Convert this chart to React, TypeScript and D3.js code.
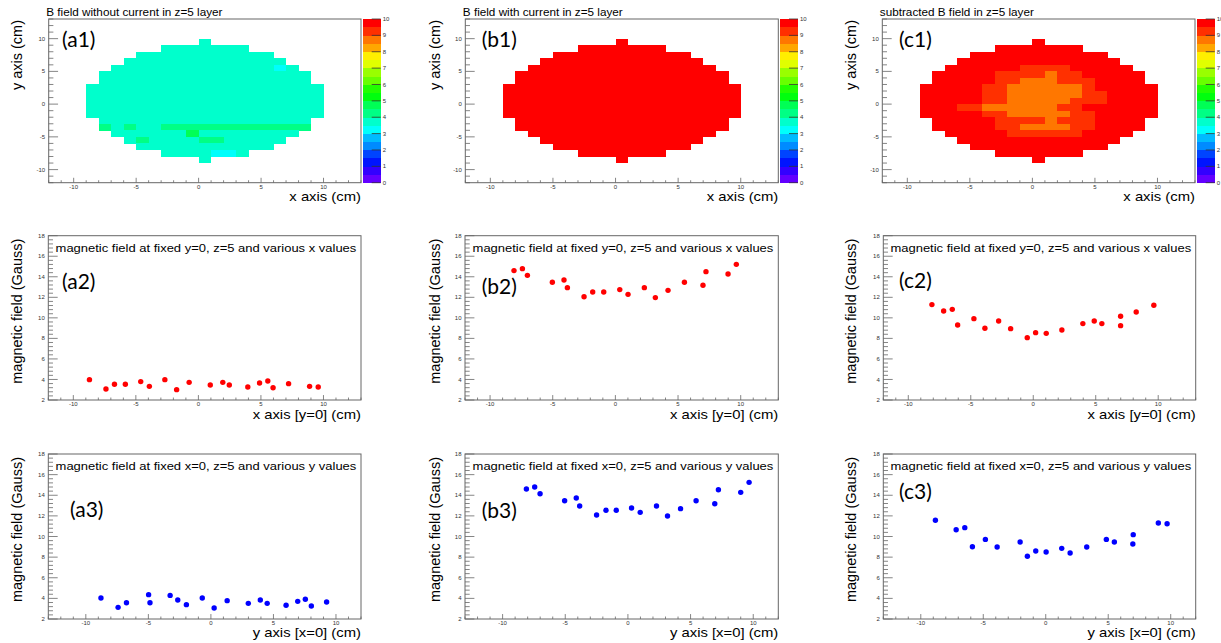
import React from 'react';
import * as d3 from 'd3';

// 1 cm bins of the z=5 maps (lower edges)
const binX = [-9, -8, -7, -6, -5, -4, -3, -2, -1, 0, 1, 2, 3, 4, 5, 6, 7, 8, 9];
const binY = [9, 8, 7, 6, 5, 4, 3, 2, 1, 0, -1, -2, -3, -4, -5, -6, -7, -8, -9];

// cell code -> B value (Gauss)
const codeValue: Record<string, number> = { C: 3.2, A: 3.8, G: 4.2, H: 4.7, o: 8.7, r: 9.3, R: 10.2 };

const mapNoCurrent = [
  '         A         ',
  '      AAAAAAA      ',
  '    AAAAAAAAAAA    ',
  '   AAAAAAAAAAAAA   ',
  '  AAAAAAAAAAAAACA  ',
  ' AAAAAAAAAAAAAAAAA ',
  ' AAAAAAAAAAAAAAAAA ',
  'AAAAAAAAAAAAAAAAAAA',
  'AAAAAAAAAAAAAAAAAAA',
  'AAAAAAAAAAAAAAAAAAA',
  'AAAAAAAAAAAAAAAAAAA',
  'AAAAAAAAAAAAAAAAAAA',
  ' AAAAAAAAAAAAAAAAA ',
  ' GAGAAGGGGGGGGGGGG ',
  '  AAAAAAHAAAAAAAA  ',
  '   AGAAAAGGAAAAA   ',
  '    AAAAAAAAAAA    ',
  '      AAAACCA      ',
  '         A         ',
];

const mapWithCurrent = [
  '         R         ',
  '      RRRRRRR      ',
  '    RRRRRRRRRRR    ',
  '   RRRRRRRRRRRRR   ',
  '  RRRRRRRRRRRRRRR  ',
  ' RRRRRRRRRRRRRRRRR ',
  ' RRRRRRRRRRRRRRRRR ',
  'RRRRRRRRRRRRRRRRRRR',
  'RRRRRRRRRRRRRRRRRRR',
  'RRRRRRRRRRRRRRRRRRR',
  'RRRRRRRRRRRRRRRRRRR',
  'RRRRRRRRRRRRRRRRRRR',
  ' RRRRRRRRRRRRRRRRR ',
  ' RRRRRRRRRRRRRRRRR ',
  '  RRRRRRRRRRRRRRR  ',
  '   RRRRRRRRRRRRR   ',
  '    RRRRRRRRRRR    ',
  '      RRRRRRR      ',
  '         R         ',
];

const mapSubtracted = [
  '         R         ',
  '      RRRRRRR      ',
  '    RRRRRRRRRRR    ',
  '   RRRRRRRRRRRRR   ',
  '  RRRRRRrrrrRRRRR  ',
  ' RRRRRrrrrorrRRRRR ',
  ' RRRRRrrooorrrRRRR ',
  'RRRRRrroooooorRRRRR',
  'RRRRRrroooooorrRRRR',
  'RRRRRrrooooorrrRRRR',
  'RRRrroooooorrRRRRRR',
  'RRRRRrrooooorrRRRRR',
  ' RRRRRrrrrorrrRRRR ',
  ' RRRRRrroooorrRRRR ',
  '  RRRRRrrrrrrRRRR  ',
  '   RRRRRRRRRRRRR   ',
  '    RRRRRRRRRRR    ',
  '      RRRRRRR      ',
  '         R         ',
];

// B along x at y=0, z=5
const xPos = {
  a: [-8.71, -7.39, -6.71, -5.84, -4.61, -3.92, -2.68, -1.74, -0.74, 0.95, 1.95, 2.47, 3.95, 4.89, 5.55, 5.97, 7.21, 8.89, 9.58],
  b: [-8.09, -7.42, -7.02, -5.03, -4.1, -3.83, -2.5, -1.81, -0.93, 0.35, 1.01, 2.31, 3.19, 4.2, 5.51, 6.99, 7.23, 8.99, 9.65],
  c: [-8.11, -7.17, -6.48, -6.05, -4.75, -3.87, -2.77, -1.81, -0.48, 0.19, 1.04, 2.29, 3.97, 4.88, 5.49, 6.99, 6.99, 8.24, 9.65],
};
const xScanB = {
  a: [3.98, 3.07, 3.53, 3.53, 3.79, 3.33, 3.98, 3.01, 3.72, 3.46, 3.72, 3.46, 3.27, 3.66, 3.85, 3.2, 3.59, 3.33, 3.27],
  b: [14.6, 14.79, 14.14, 13.46, 13.69, 12.94, 12.06, 12.52, 12.52, 12.75, 12.29, 12.94, 11.97, 12.68, 13.46, 13.17, 14.5, 14.27, 15.21],
  c: [11.29, 10.67, 10.83, 9.31, 9.92, 8.98, 9.69, 8.95, 8.07, 8.56, 8.49, 8.82, 9.44, 9.69, 9.44, 10.15, 9.24, 10.57, 11.22],
};

// B along y at x=0, z=5
const yPos = {
  a: [-8.79, -7.42, -6.75, -4.98, -4.87, -3.26, -2.65, -1.96, -0.69, 0.26, 1.3, 2.99, 3.95, 4.5, 6.01, 6.94, 7.55, 8.03, 9.25],
  b: [-8.1, -7.44, -7.01, -5.05, -4.12, -3.85, -2.5, -1.75, -0.93, 0.29, 0.98, 2.28, 3.16, 4.2, 5.44, 6.93, 7.22, 9.0, 9.67],
  c: [-8.83, -7.17, -6.48, -5.87, -4.83, -3.89, -2.05, -1.47, -0.8, 0.03, 1.28, 1.95, 3.28, 4.85, 5.49, 6.97, 7.0, 9.01, 9.71],
};
const yScanB = {
  a: [4.04, 3.13, 3.58, 4.36, 3.58, 4.29, 3.84, 3.39, 4.04, 3.07, 3.78, 3.52, 3.84, 3.52, 3.33, 3.71, 3.91, 3.26, 3.65],
  b: [14.6, 14.8, 14.15, 13.47, 13.73, 12.96, 12.08, 12.54, 12.54, 12.76, 12.34, 12.96, 11.99, 12.7, 13.47, 13.18, 14.54, 14.28, 15.25],
  c: [11.57, 10.66, 10.86, 9.01, 9.72, 8.98, 9.47, 8.08, 8.59, 8.5, 8.85, 8.4, 8.98, 9.72, 9.47, 9.27, 10.18, 11.31, 11.24],
};

const cmTicks = [-10, -5, 0, 5, 10];
const gaussTicks = [2, 4, 6, 8, 10, 12, 14, 16, 18];
const zTicks = [0, 1, 2, 3, 4, 5, 6, 7, 8, 9, 10];

const SANS = "'Liberation Sans', Arial, Helvetica, sans-serif";
const HAND = "Lato, 'Open Sans', sans-serif";
const SX = 1.15; // sub-figures are stretched horizontally
const FRAME = '#666';

// ROOT "pretty" palette, 20 contours over 50 colours
function palette(v: number) {
  const band = Math.max(0, Math.min(19, Math.floor(v / 0.5)));
  const k = Math.floor(((band + 0.99) * 50) / 20);
  return k >= 49 ? '#ff0000' : d3.hsl(280 - (k + 1) * 5.6, 1, 0.5).formatHex();
}

type F = { x0: number; x1: number; y0: number; y1: number };

function SText({ x, y, size, anchor = 'start', children }: any) {
  return (
    <text transform={`translate(${x},${y}) scale(${SX},1)`} fontSize={size} textAnchor={anchor} fontFamily={SANS} fill="#000">
      {children}
    </text>
  );
}

function Axes({ f, x, y, xMajor, yMajor, xMinor, yMinor }: any) {
  const xl = 0.03 * (f.y1 - f.y0);
  const yl = 0.03 * (f.x1 - f.x0);
  return (
    <g>
      <g stroke={FRAME} strokeWidth={0.8}>
        {xMinor.map((t: number, i: number) => (
          <line key={'xm' + i} x1={x(t)} x2={x(t)} y1={f.y1} y2={f.y1 - (xMajor.includes(t) ? xl : xl / 2)} />
        ))}
        {yMinor.map((t: number, i: number) => {
          const major = yMajor.some((m: number) => Math.abs(m - t) < 1e-6);
          return <line key={'ym' + i} x1={f.x0} x2={f.x0 + (major ? yl : yl / 2)} y1={y(t)} y2={y(t)} />;
        })}
      </g>
      <g fontFamily={SANS} fontSize={6} fill="#333">
        {xMajor.map((t: number) => (
          <text key={'xl' + t} x={x(t)} y={f.y1 + 6.2} textAnchor="middle">{t}</text>
        ))}
        {yMajor.map((t: number) => (
          <text key={'yl' + t} x={f.x0 - 3.5} y={y(t)} dy="0.35em" textAnchor="end">{t}</text>
        ))}
      </g>
    </g>
  );
}

function Frame({ f }: { f: F }) {
  return <rect x={f.x0} y={f.y0} width={f.x1 - f.x0} height={f.y1 - f.y0} fill="none" stroke={FRAME} strokeWidth={1} />;
}

function PanelLabel({ x, y, text }: any) {
  return (
    <text x={x} y={y} fontFamily={HAND} fontSize={21} fill="#000">{text}</text>
  );
}

function YTitle({ x, y, text }: any) {
  return (
    <text transform={`translate(${x},${y}) rotate(-90)`} textAnchor="end" fontFamily={SANS} fontSize={14.5} fill="#000">
      {text}
    </text>
  );
}

function HeatPanel({ f, grid, title, label, ytx }: any) {
  const x = d3.scaleLinear().domain([-12, 13]).range([f.x0, f.x1]);
  const y = d3.scaleLinear().domain([-12, 13]).range([f.y1, f.y0]);
  const z = d3.scaleLinear().domain([0, 10]).range([f.y1, f.y0]);
  const cells: { bx: number; by: number; v: number }[] = [];
  grid.forEach((row: string, ri: number) =>
    row.split('').forEach((ch, ci) => {
      if (ch !== ' ') cells.push({ bx: binX[ci], by: binY[ri], v: codeValue[ch] });
    })
  );
  const cb0 = f.x1 + 1.7;
  const cb1 = f.x1 + 19.7;
  const bands = d3.range(0, 10, 0.5);
  return (
    <g>
      <SText x={f.x0 - 2.5} y={16} size={10.2}>{title}</SText>
      <g shapeRendering="crispEdges">
        {cells.map((c, i) => (
          <rect key={i} x={x(c.bx)} y={y(c.by + 1)} width={x(c.bx + 1) - x(c.bx) + 0.3} height={y(c.by) - y(c.by + 1) + 0.3} fill={palette(c.v)} />
        ))}
        {bands.map((b) => (
          <rect key={'b' + b} x={cb0} y={z(b + 0.5)} width={cb1 - cb0} height={z(b) - z(b + 0.5) + 0.3} fill={palette(b + 0.25)} />
        ))}
      </g>
      <g stroke="#333" strokeWidth={0.8}>
        {zTicks.map((t) => (
          <line key={'zt' + t} x1={cb1 - 9} x2={cb1} y1={z(t)} y2={z(t)} />
        ))}
      </g>
      <g fontFamily={SANS} fontSize={6} fill="#333">
        {zTicks.map((t) => (
          <text key={'zl' + t} x={cb1 + 2} y={z(t)} dy="0.35em">{t}</text>
        ))}
      </g>
      <Axes f={f} x={x} y={y} xMajor={cmTicks} yMajor={cmTicks} xMinor={d3.range(-12, 14)} yMinor={d3.range(-12, 14)} />
      <Frame f={f} />
      <PanelLabel x={label[0]} y={label[1]} text={label[2]} />
      <YTitle x={ytx} y={f.y0 + 1} text="y axis (cm)" />
      <SText x={f.x1} y={201} size={12.9} anchor="end">x axis (cm)</SText>
    </g>
  );
}

function ScanPanel({ f, xs, ys, color, dom, legend, label, ytx, xtitle, xtY, legY }: any) {
  const x = d3.scaleLinear().domain(dom).range([f.x0, f.x1]);
  const y = d3.scaleLinear().domain([2, 18]).range([f.y1, f.y0]);
  return (
    <g>
      <Axes f={f} x={x} y={y} xMajor={cmTicks} yMajor={gaussTicks} xMinor={d3.range(dom[0], dom[1] + 1)} yMinor={d3.range(2, 18.01, 0.4)} />
      <Frame f={f} />
      <SText x={(f.x0 + f.x1) / 2 + 1.3} y={legY} size={11.3} anchor="middle">{legend}</SText>
      {xs.map((v: number, i: number) => (
        <circle key={i} cx={x(v)} cy={y(ys[i])} r={2.7} fill={color} />
      ))}
      <PanelLabel x={label[0]} y={label[1]} text={label[2]} />
      <YTitle x={ytx} y={f.y0 + 3} text="magnetic field (Gauss)" />
      <SText x={f.x1} y={xtY} size={12.9} anchor="end">{xtitle}</SText>
    </g>
  );
}

const colX = [
  { x0: 48.3, x1: 361 },
  { x0: 465, x1: 778.3 },
  { x0: 883.3, x1: 1195.7 },
];
const heatX = [
  { x0: 48.7, x1: 361 },
  { x0: 465.3, x1: 778.3 },
  { x0: 882.3, x1: 1195 },
];
const yTitleX = [21.5, 440, 855.5];

export default function App() {
  const keys = ['a', 'b', 'c'] as const;
  const maps = [mapNoCurrent, mapWithCurrent, mapSubtracted];
  const titles = ['B field without current in z=5 layer', 'B field with current in z=5 layer', 'subtracted B field in z=5 layer'];
  const lab1 = [[62, 47, '(a1)'], [481.7, 47, '(b1)'], [899, 47, '(c1)']];
  const lab2 = [[62, 289, '(a2)'], [481.7, 294, '(b2)'], [899, 288, '(c2)']];
  const lab3 = [[70, 516.5, '(a3)'], [481.7, 518, '(b3)'], [899, 499, '(c3)']];
  return (
    <svg width={1221} height={643} style={{ position: 'absolute', left: 0, top: 0, background: '#fff' }}>
      <rect width={1221} height={643} fill="#fff" />
      {keys.map((k, i) => (
        <HeatPanel key={'h' + k} f={{ ...heatX[i], y0: 19, y1: 182.7 }} grid={maps[i]} title={titles[i]} label={lab1[i]} ytx={yTitleX[i]} />
      ))}
      {keys.map((k, i) => (
        <ScanPanel
          key={'x' + k}
          f={{ ...colX[i], y0: 235.7, y1: 400 }}
          xs={xPos[k]}
          ys={xScanB[k]}
          color="#ff0000"
          dom={[-12, 13]}
          legend="magnetic field at fixed y=0, z=5 and various x values"
          label={lab2[i]}
          ytx={yTitleX[i]}
          xtitle="x axis [y=0] (cm)"
          xtY={418.7}
          legY={252.3}
        />
      ))}
      {keys.map((k, i) => (
        <ScanPanel
          key={'y' + k}
          f={{ ...colX[i], y0: 454, y1: 619 }}
          xs={yPos[k]}
          ys={yScanB[k]}
          color="#0000ff"
          dom={[-13, 12]}
          legend="magnetic field at fixed x=0, z=5 and various y values"
          label={lab3[i]}
          ytx={yTitleX[i]}
          xtitle="y axis [x=0] (cm)"
          xtY={636.7}
          legY={470}
        />
      ))}
    </svg>
  );
}
